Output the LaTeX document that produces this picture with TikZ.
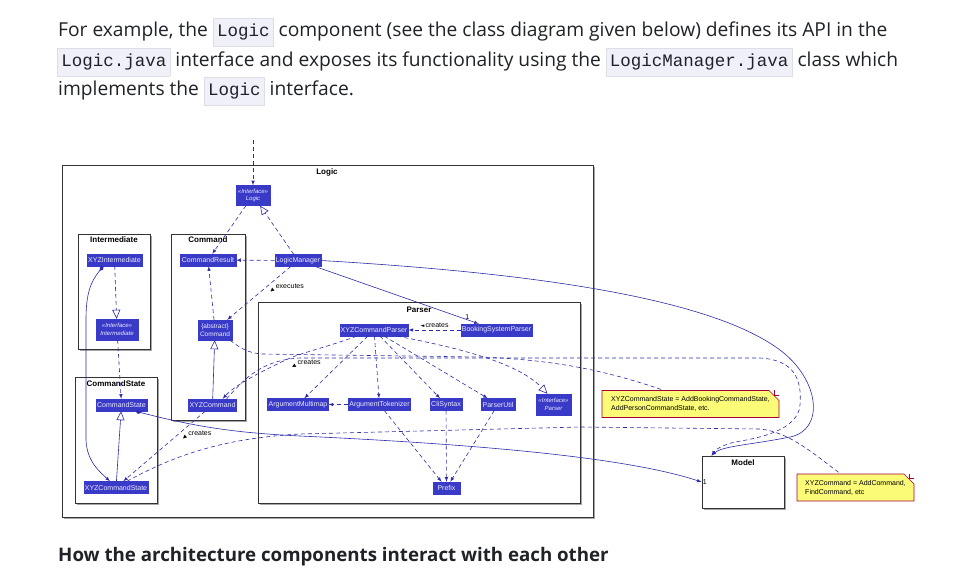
\documentclass[tikz,border=0pt]{standalone}
\usepackage{fontspec}
\setmainfont{Open Sans}
\newfontfamily\diagfont{Liberation Sans}
\newfontfamily\codefont{Liberation Mono}
\newfontfamily\symfont{DejaVu Sans}
\usetikzlibrary{positioning,calc,arrows.meta,shapes.misc,shadows}

\definecolor{clsfill}{RGB}{58,58,200}
\definecolor{clstext}{RGB}{235,235,255}
\definecolor{edgecol}{RGB}{45,45,170}
\definecolor{notefill}{RGB}{251,251,119}
\definecolor{noteline}{RGB}{168,0,54}
\definecolor{pkgline}{RGB}{51,51,51}
\definecolor{bodyink}{RGB}{31,35,40}
\definecolor{codebg}{RGB}{240,240,248}
\definecolor{codeline}{RGB}{222,222,232}

\setlength\fboxsep{3.5pt}
\setlength\fboxrule{0.6pt}
\newcommand\inlinecode[1]{\fcolorbox{codeline}{codebg}{\codefont\fontsize{17.5}{20}\selectfont\strut#1}}
\newcommand\dirtri[1]{{\symfont\fontsize{5}{5}\selectfont\rotatebox{#1}{▶}}\,}

\begin{document}
\begin{tikzpicture}[x=1pt, y=-1pt,
    cls/.style={draw=clsfill, fill=clsfill, text=clstext, font=\diagfont\fontsize{7}{8}\selectfont, inner xsep=1pt, inner ysep=0pt, minimum height=12pt},
    iface/.style={cls, align=center, font=\diagfont\itshape\fontsize{6}{7.5}\selectfont, minimum height=20pt},
    pkgframe/.style={draw=pkgline, line width=0.8pt, fill=white, drop shadow={shadow xshift=2pt, shadow yshift=-2pt, fill=black!35, opacity=1}},
    pkgtitle/.style={font=\diagfont\bfseries\fontsize{8}{9}\selectfont, inner sep=0pt},
    notebox/.style={chamfered rectangle, chamfered rectangle corners=north east, chamfered rectangle xsep=5pt, chamfered rectangle ysep=5pt, draw=noteline, fill=notefill, line width=0.6pt, align=left, font=\diagfont\fontsize{7}{9}\selectfont, inner xsep=3pt, inner ysep=1pt},
    lbl/.style={font=\diagfont\fontsize{7}{8}\selectfont, inner sep=1pt},
    bodytext/.style={anchor=base west, inner sep=0pt, text=bodyink, font=\fontsize{19.2}{22}\selectfont},
    dep/.style={draw=edgecol, line width=0.6pt, dash pattern=on 4pt off 3pt, -latex},
    noteln/.style={draw=edgecol, line width=0.6pt, dash pattern=on 4pt off 3pt},
    real/.style={draw=edgecol, line width=0.6pt, dash pattern=on 4pt off 3pt, -{Triangle[open, length=9pt, width=8pt]}},
    ext/.style={draw=edgecol, line width=0.6pt, -{Triangle[open, length=9pt, width=8pt]}},
    assoc/.style={draw=edgecol, line width=0.6pt, -latex},
    comp/.style={draw=edgecol, line width=0.6pt, {Diamond[length=6pt, width=4pt]}-latex}]

    \useasboundingbox (0,0) rectangle (977,584);
    \fill[white] (0,0) rectangle (977,584);

    % page text
    \node[bodytext] (line1) at (58,36) {For example, the \inlinecode{Logic} component (see the class diagram given below) defines its API in the};
    \node[bodytext] (line2) at (57,66) {\inlinecode{Logic.java} interface and exposes its functionality using the \inlinecode{LogicManager.java} class which};
    \node[bodytext] (line3) at (58,95) {implements the \inlinecode{Logic} interface.};
    \node[bodytext, font=\bfseries\fontsize{18.7}{22}\selectfont] (heading) at (58,561) {How the architecture components interact with each other};

    % packages
    \draw[pkgframe] (62,165) rectangle (593,517);
    \node[pkgtitle] (logictitle) at (327,172) {Logic};
    \draw[pkgframe] (78,234) rectangle (150,349);
    \node[pkgtitle] (intertitle) at (114,240) {Intermediate};
    \draw[pkgframe] (171,234) rectangle (245,420);
    \node[pkgtitle] (cmdtitle) at (208,240) {Command};
    \draw[pkgframe] (75,377) rectangle (157,503);
    \node[pkgtitle] (statetitle) at (116,384) {CommandState};
    \draw[pkgframe] (258,302) rectangle (580,503);
    \node[pkgtitle] (parsertitle) at (419,310) {Parser};
    \node[pkgframe, minimum width=82pt, minimum height=52pt, inner sep=0pt] (model) at (743,482) {};
    \node[pkgtitle] (modeltitle) at (743,463) {Model};

    % classes
    \node[iface, minimum width=34pt] (logic) at (253,195.5) {«Interface»\\Logic};
    \node[cls, minimum width=53pt] (xyzinter) at (114.5,260) {XYZIntermediate};
    \node[iface, minimum width=42pt, minimum height=21pt] (interiface) at (117,329.5) {«Interface»\\Intermediate};
    \node[cls, minimum width=56pt] (cmdresult) at (208,260) {CommandResult};
    \node[cls, align=center, font=\diagfont\fontsize{6.5}{7.5}\selectfont, minimum width=34pt, minimum height=20pt] (abscmd) at (215,330) {\{abstract\}\\Command};
    \node[cls, minimum width=47pt] (xyzcmd) at (212.5,405) {XYZCommand};
    \node[cls, minimum width=51pt] (cmdstate) at (121.5,405) {CommandState};
    \node[cls, minimum width=63pt] (xyzstate) at (116,487.5) {XYZCommandState};
    \node[cls, minimum width=46pt] (logicmgr) at (298,260.5) {LogicManager};
    \node[cls, minimum width=68pt] (xyzparser) at (374,330) {XYZCommandParser};
    \node[cls, minimum width=71pt] (bsparser) at (496.5,330) {BookingSystemParser};
    \node[cls, minimum width=60pt] (argmm) at (298,404.5) {ArgumentMultimap};
    \node[cls, minimum width=61pt] (argtok) at (379.5,404.5) {ArgumentTokenizer};
    \node[cls, minimum width=30pt] (clisyntax) at (446,404.5) {CliSyntax};
    \node[cls, minimum width=34pt] (parserutil) at (498,404.5) {ParserUtil};
    \node[iface, minimum width=35pt, minimum height=21pt] (parseriface) at (553.5,404.5) {«Interface»\\Parser};
    \node[cls, minimum width=27pt] (prefix) at (446.5,488) {Prefix};

    % notes
    \node[notebox, minimum width=177pt, minimum height=23pt] (note1) at (690.5,404) {XYZCommandState = AddBookingCommandState,\\AddPersonCommandState, etc.};
    \draw[noteline, line width=0.6pt] ($(note1.east |- note1.north)+(-5,0)$) -- ++(0,5) -- ++(5,0);
    \node[notebox, minimum width=117pt, minimum height=24pt] (note2) at (855.5,487.5) {XYZCommand = AddCommand,\\FindCommand, etc};
    \draw[noteline, line width=0.6pt] ($(note2.east |- note2.north)+(-5,0)$) -- ++(0,5) -- ++(5,0);

    % connectors
    \coordinate (logicin) at (253,140);
    \draw[dep] (logicin) -- (logic);
    \draw[real] (logicmgr) -- (logic);
    \draw[dep] (logic) -- (cmdresult);
    \draw[dep] (logicmgr) -- (cmdresult);
    \draw[dep] (logicmgr) -- node[lbl, pos=0.42, right=4pt] {\dirtri{-139}executes} (abscmd);
    \draw[dep] (abscmd) -- (cmdresult);
    \draw[ext] (xyzcmd) -- (abscmd);
    \draw[real] (xyzinter) -- (interiface);
    \draw[dep] (interiface) -- (cmdstate);
    \draw[ext] (xyzstate) -- (cmdstate);
    \draw[comp] ($(xyzinter.south)+(-11,0)$) .. controls (90,282) and (86,295) .. (86,320) -- (86,440) .. controls (87,462) and (100,472) .. ($(xyzstate.north)+(-6,0)$);
    \draw[dep] (xyzcmd) -- node[lbl, pos=0.35, right=4pt] {\dirtri{-139}creates} (xyzstate);
    \draw[comp] ($(cmdstate.south)+(14,0)$) .. controls (200,428) and (240,433) .. (300,436) .. controls (450,443) and (620,455) .. (model.west) node[lbl, anchor=west] {1};

    \draw[assoc] (logicmgr) -- node[lbl, pos=0.95, above left=0pt] {1} (bsparser);
    \draw[assoc] (logicmgr.east) .. controls (480,270) and (700,290) .. (780,350) .. controls (820,380) and (825,430) .. (790,437) .. controls (750,445) and (722,446) .. ($(model.north west)+(10,0)$);
    \draw[dep] ($(xyzcmd.north east)+(-10,0)$) .. controls (245,378) and (262,360) .. (300,358) -- (760,358) .. controls (795,360) and (802,380) .. (800,405) .. controls (798,430) and (760,438) .. (735,442) .. controls (722,445) and (715,450) .. ($(model.north west)+(10,0)$);
    \draw[noteln] ($(abscmd.south east)+(-2,0)$) .. controls (240,348) and (248,353) .. (262,354) -- (480,357) .. controls (560,360) and (610,372) .. ($(note1.north)+(-27,0)$);
    \draw[noteln] ($(xyzstate.north)+(11,0)$) .. controls (180,452) and (230,438) .. (300,434) -- (580,427) -- (760,429) .. controls (790,432) and (815,455) .. ($(note2.north)+(-15,0)$);

    \draw[dep] ($(xyzparser.south west)+(17,0)$) .. controls (330,346) and (305,352) .. (290,358) node[lbl, anchor=north west, yshift=-1pt] {\dirtri{-151}creates} .. controls (260,372) and (235,385) .. ($(xyzcmd.north east)+(-14,0)$);
    \draw[dep] (bsparser) -- node[lbl, above=1pt] {{\symfont\fontsize{5}{5}\selectfont ◄}\,creates} (xyzparser);
    \draw[dep] (xyzparser) -- (argmm);
    \draw[dep] (xyzparser) -- (argtok);
    \draw[dep] (xyzparser) -- (clisyntax);
    \draw[dep] (xyzparser) -- (parserutil);
    \draw[real] ($(xyzparser.south east)+(-11,0)$) .. controls (470,350) and (520,365) .. ($(parseriface.north)+(-6,0)$);
    \draw[dep] (argtok) -- (argmm);
    \draw[dep] (argtok) -- (prefix);
    \draw[dep] (clisyntax) -- (prefix);
    \draw[dep] (parserutil) -- (prefix);
\end{tikzpicture}
\end{document}
